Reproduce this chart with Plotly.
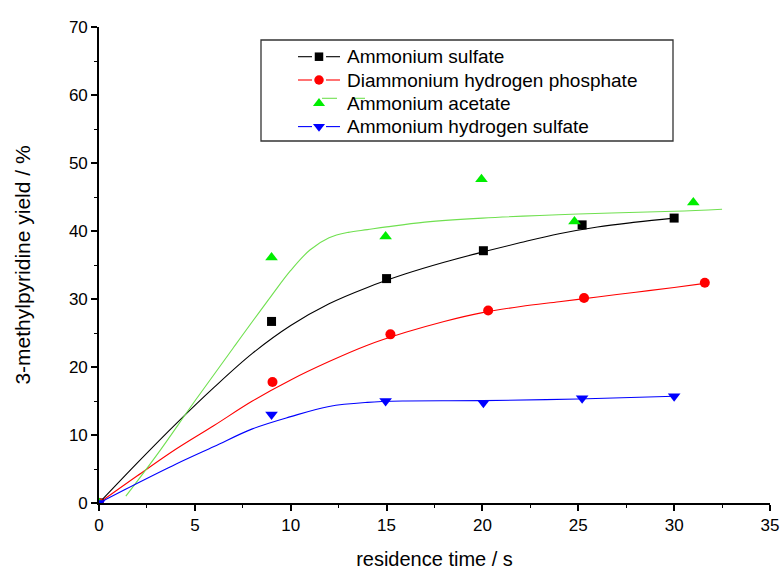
import plotly.graph_objects as go

# measured points
names = ["Ammonium sulfate", "Diammonium hydrogen phosphate", "Ammonium acetate", "Ammonium hydrogen sulfate"]

as_x = [0, 9.0, 15.0, 20.05, 25.2, 30.0]
as_y = [0, 26.7, 33.0, 37.1, 40.9, 41.9]

dhp_x = [0, 9.05, 15.2, 20.3, 25.3, 31.6]
dhp_y = [0, 17.8, 24.8, 28.3, 30.15, 32.4]

aa_x = [0, 9.0, 14.95, 19.95, 24.8, 31.0]
aa_y = [0, 36.1, 39.2, 47.6, 41.4, 44.2]

ahs_x = [0, 9.0, 14.95, 20.05, 25.2, 30.0]
ahs_y = [0, 13.0, 15.0, 14.75, 15.4, 15.7]

# fitted curves
as_fx = [0, 2, 4, 6, 8, 10, 12, 14, 16, 18, 20, 22, 24, 26, 28, 30]
as_fy = [0, 5.9, 11.6, 17.0, 22.0, 26.1, 29.3, 31.7, 33.7, 35.4, 36.9, 38.3, 39.6, 40.6, 41.3, 41.9]

dhp_fx = [0, 2, 4, 6, 8, 10, 12, 14, 16, 18, 20, 22, 24, 26, 28, 30, 31.6]
dhp_fy = [0, 4.0, 7.9, 11.4, 15.0, 18.1, 20.8, 23.2, 25.1, 26.7, 28.0, 28.9, 29.6, 30.3, 31.0, 31.7, 32.3]

aa_fx = [1.4, 3, 5, 7, 9, 10, 11, 12, 13, 14, 15, 17, 20, 25, 30, 32.5]
aa_fy = [1.0, 7.0, 15.0, 22.8, 30.5, 34.2, 37.2, 39.0, 39.8, 40.2, 40.6, 41.3, 41.9, 42.5, 42.9, 43.2]

ahs_fx = [0, 2, 4, 6, 8, 10, 12, 14, 16, 20, 25, 30]
ahs_fy = [0, 2.9, 5.7, 8.3, 10.9, 12.7, 14.2, 14.8, 15.0, 15.05, 15.3, 15.7]

colors = ["#000000", "#ff0000", "#00ee00", "#0000ff"]
line_colors = ["#000000", "#ff0000", "#70e050", "#0000ff"]
symbols = ["square", "circle", "triangle-up", "triangle-down"]
msizes = [9, 10, 11, 11]

pts = [(as_x, as_y), (dhp_x, dhp_y), (aa_x, aa_y), (ahs_x, ahs_y)]
fits = [(as_fx, as_fy), (dhp_fx, dhp_fy), (aa_fx, aa_fy), (ahs_fx, ahs_fy)]

# layout geometry (pixels)
W, H = 784, 570
L, R, T, B = 99, 14, 27, 67
PW, PH = W - L - R, H - T - B


def px(x):
    return (x - L) / PW


def py(y):
    return (H - B - y) / PH


fig = go.Figure()
for i in range(4):
    fx, fy = fits[i]
    fig.add_trace(go.Scatter(x=fx, y=fy, mode="lines",
                             line=dict(color=line_colors[i], width=1.1, shape="spline", smoothing=1.0),
                             showlegend=False, hoverinfo="skip"))
for i in range(4):
    xs, ys = pts[i]
    fig.add_trace(go.Scatter(x=xs, y=ys, mode="markers", name=names[i],
                             marker=dict(symbol=symbols[i], color=colors[i], size=msizes[i], line=dict(width=0)),
                             showlegend=False))

# manual legend (Origin style)
row0, dy = 56.7, 23.3
box = dict(x0=261, x1=673, y0=40, y1=141)
fig.add_shape(type="rect", xref="paper", yref="paper",
              x0=px(box["x0"]), x1=px(box["x1"]), y0=py(box["y1"]), y1=py(box["y0"]),
              line=dict(color="#333333", width=1.3), fillcolor="rgba(0,0,0,0)")
for i in range(4):
    yc = row0 + dy * i
    if i == 2:
        segs = [(322, 337, yc - 5), (352, 365, yc - 5)]
    else:
        segs = [(298, 312, yc), (326, 340, yc)]
    for a, b, yy in segs:
        fig.add_shape(type="line", xref="paper", yref="paper", x0=px(a), x1=px(b), y0=py(yy), y1=py(yy),
                      line=dict(color=line_colors[i], width=1.1))
    fig.add_trace(go.Scatter(x=[px(319)], y=[py(yc)], xaxis="x2", yaxis="y2", mode="markers",
                             marker=dict(symbol=symbols[i], color=colors[i], size=msizes[i] - 0.5, line=dict(width=0)),
                             showlegend=False, hoverinfo="skip", cliponaxis=False))
    fig.add_annotation(xref="paper", yref="paper", x=px(345), y=py(yc), xanchor="left", yanchor="middle",
                       text=names[i], showarrow=False, font=dict(size=19, color="#000000"))

fig.update_layout(
    width=W, height=H,
    margin=dict(l=L, r=R, t=T, b=B),
    paper_bgcolor="white", plot_bgcolor="white",
    font=dict(family="Liberation Sans, Arial, sans-serif", size=17, color="#000000"),
    showlegend=False,
    xaxis=dict(range=[0, 35], tick0=0, dtick=5, showline=True, linecolor="black", linewidth=1.6,
               ticks="outside", ticklen=6, tickwidth=1.5, tickcolor="black", showgrid=False, zeroline=False,
               minor=dict(dtick=2.5, ticks="outside", ticklen=3, tickwidth=1.3, tickcolor="black"),
               title=dict(text="residence time / s", font=dict(size=20), standoff=20),
               tickfont=dict(size=17), automargin=False),
    yaxis=dict(range=[0, 70], tick0=0, dtick=10, showline=True, linecolor="black", linewidth=1.6,
               ticks="outside", ticklen=6, tickwidth=1.5, tickcolor="black", showgrid=False, zeroline=False,
               minor=dict(dtick=5, ticks="outside", ticklen=3, tickwidth=1.3, tickcolor="black"),
               title=dict(text="3-methylpyridine yield / %", font=dict(size=21), standoff=33),
               tickfont=dict(size=17), automargin=False),
    xaxis2=dict(domain=[0, 1], range=[0, 1], overlaying="x", visible=False, fixedrange=True),
    yaxis2=dict(domain=[0, 1], range=[0, 1], overlaying="y", visible=False, fixedrange=True),
)

fig.write_html("out.html", config={"displayModeBar": False},
               post_script="document.body.style.margin='0';")
